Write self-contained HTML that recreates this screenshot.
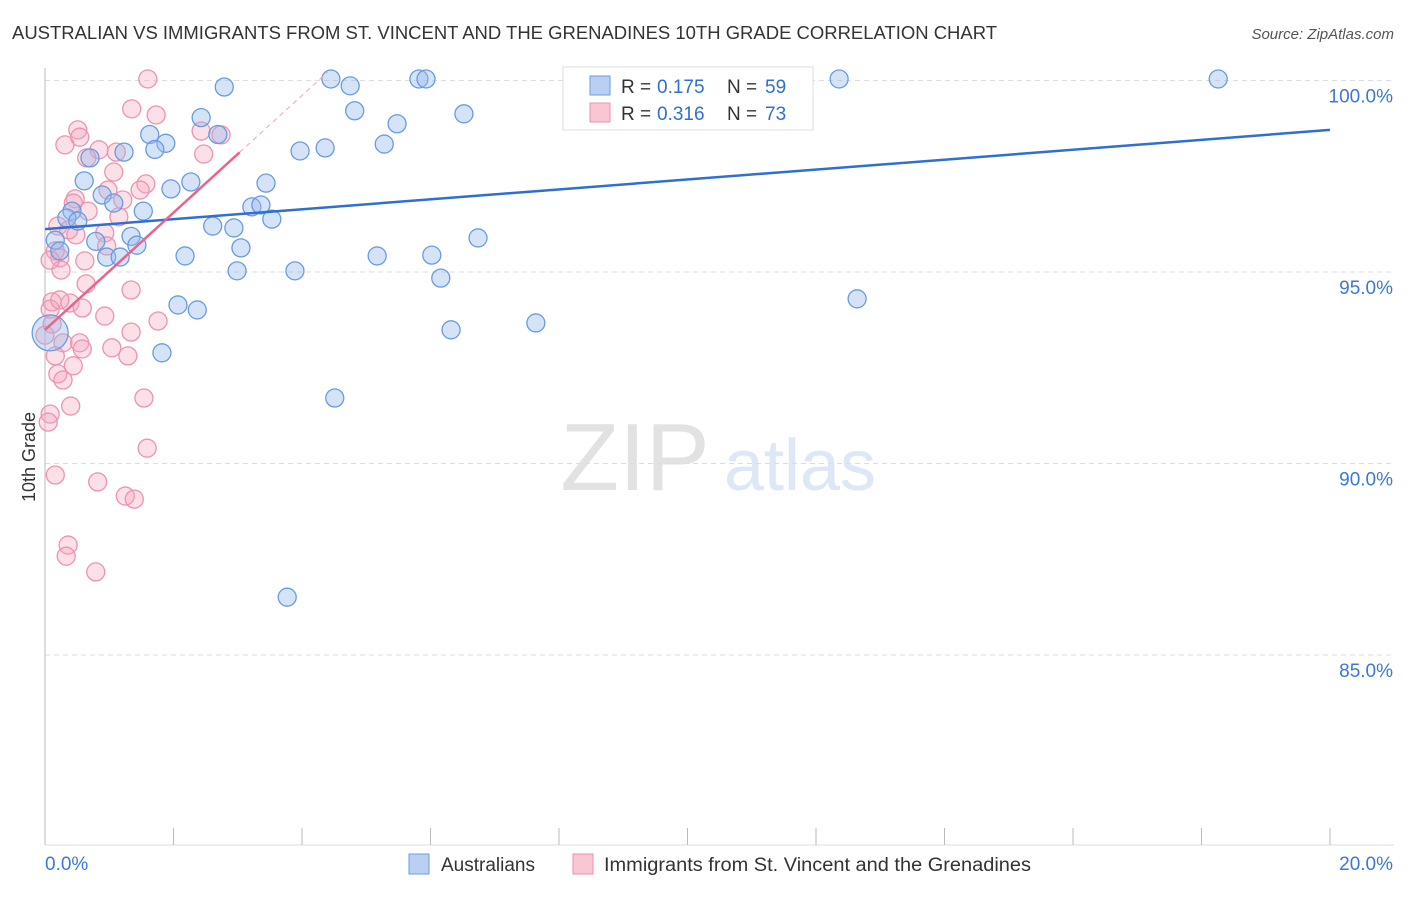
<!DOCTYPE html>
<html><head><meta charset="utf-8"><style>
body{margin:0;background:#fff;font-family:"Liberation Sans",sans-serif;}
svg text{font-family:"Liberation Sans",sans-serif;}
</style></head><body>
<svg id="c" width="1406" height="892" xmlns="http://www.w3.org/2000/svg">
<text x="12" y="39" font-size="18" fill="#333" textLength="985" lengthAdjust="spacingAndGlyphs">AUSTRALIAN VS IMMIGRANTS FROM ST. VINCENT AND THE GRENADINES 10TH GRADE CORRELATION CHART</text>
<text x="1394" y="39" font-size="15" fill="#555" text-anchor="end" font-style="italic">Source: ZipAtlas.com</text>
<text x="35" y="457" font-size="18" fill="#333" transform="rotate(-90 35 457)" text-anchor="middle">10th Grade</text>
<g><text x="635" y="490" font-size="96" fill="#e2e2e2" font-family="Liberation Serif" text-anchor="middle">ZIP</text><text x="800" y="490" font-size="72" fill="#dde7f5" text-anchor="middle">atlas</text></g>
<g id="grid"></g><g id="marks"></g><g id="lines"></g>
<g>
<rect x="563" y="67" width="250" height="63" fill="#fff" stroke="#ddd"/>
<rect x="590" y="76" width="20" height="19" fill="#b9d0f2" stroke="#6a9be0"/>
<rect x="590" y="103" width="20" height="19" fill="#f9c6d4" stroke="#ee90aa"/>
<text x="621" y="93" font-size="19" fill="#333">R =</text><text x="657" y="93" font-size="19" fill="#2f6fd0">0.175</text>
<text x="727" y="93" font-size="19" fill="#333">N =</text><text x="765" y="93" font-size="19" fill="#2f6fd0">59</text>
<text x="621" y="120" font-size="19" fill="#333">R =</text><text x="657" y="120" font-size="19" fill="#2f6fd0">0.316</text>
<text x="727" y="120" font-size="19" fill="#333">N =</text><text x="765" y="120" font-size="19" fill="#2f6fd0">73</text>
</g>
<g>
<rect x="409" y="854" width="20" height="20" fill="#b9d0f2" stroke="#6a9be0"/>
<text x="441" y="871" font-size="19" fill="#333">Australians</text>
<rect x="573" y="854" width="20" height="20" fill="#f9c6d4" stroke="#ee90aa"/>
<text x="604" y="871" font-size="19" fill="#333" textLength="427" lengthAdjust="spacingAndGlyphs">Immigrants from St. Vincent and the Grenadines</text>
</g>
</svg>
<script>
const xTickLabels=["0.0%","20.0%"];
const yTicks=[100,95,90,85];
const yTickLabels=["100.0%","95.0%","90.0%","85.0%"];
const blueX=[2.79,4.45,4.75,5.82,5.93,12.36,18.26,2.43,4.82,6.52,5.48,1.63,2.69,1.88,1.71,1.23,0.70,3.97,4.36,5.28,0.61,1.96,2.27,3.44,0.89,1.07,1.53,0.42,0.34,0.51,3.22,3.36,2.61,2.94,3.53,0.16,0.79,1.34,1.43,0.23,0.96,1.17,2.18,3.05,5.17,6.02,6.74,2.99,3.89,6.16,12.64,2.07,2.37,6.32,7.64,1.82,4.51,3.77,0.08];
const blueY=[99.83,100.04,99.86,100.04,100.04,100.04,100.04,99.03,99.21,99.13,98.87,98.59,98.59,98.36,98.20,98.13,97.98,98.16,98.24,98.34,97.38,97.17,97.35,97.32,97.01,96.80,96.59,96.59,96.41,96.33,96.70,96.75,96.20,96.15,96.38,95.83,95.80,95.93,95.70,95.55,95.39,95.39,95.42,95.63,95.42,95.44,95.89,95.03,95.03,94.84,94.30,94.14,94.01,93.49,93.67,92.89,91.71,86.51,93.41];
const pinkX=[1.60,1.35,1.73,0.51,0.54,0.31,0.84,0.65,1.11,2.47,2.43,2.74,1.07,1.57,1.48,0.98,0.47,0.44,0.67,1.21,1.15,0.20,0.37,0.93,0.48,0.96,0.16,0.23,0.62,0.25,0.64,1.34,0.11,0.39,0.08,0.58,0.93,1.76,1.34,0.11,0.28,0.54,0.58,1.04,1.29,0.16,0.44,0.20,0.28,1.54,0.40,0.08,0.05,0.16,0.82,1.25,1.39,0.36,0.33,0.79,1.59,0.00,0.08,0.23];
const pinkY=[100.04,99.26,99.10,98.71,98.52,98.32,98.19,97.98,98.13,98.08,98.68,98.58,97.61,97.30,97.14,97.14,96.91,96.80,96.59,96.88,96.44,96.20,96.10,96.02,95.97,95.68,95.55,95.37,95.29,95.05,94.69,94.53,94.22,94.19,94.03,94.06,93.85,93.72,93.43,93.64,93.15,93.15,92.99,93.02,92.81,92.81,92.55,92.34,92.18,91.71,91.50,91.29,91.08,89.70,89.52,89.15,89.07,87.87,87.58,87.17,90.40,93.35,95.31,94.27];
const blueFit=[96.12,98.71];
const pinkFit=[93.49,1.53];
const NS="http://www.w3.org/2000/svg";
const sx=v=>45+v*64.25, sy=v=>80.5+(100-v)*38.3;
function mk(t,a,p){const e=document.createElementNS(NS,t);for(const k in a)e.setAttribute(k,a[k]);p.appendChild(e);return e;}
const g=document.getElementById('grid');
yTicks.forEach((t,i)=>{
 const l=mk('line',{x1:45,x2:1394,y1:sy(t),y2:sy(t),stroke:'#ddd','stroke-dasharray':'5,4'},g);
 
 
 const tx=mk('text',{x:1393,y:sy(t)+22,'font-size':19,fill:'#3b78d8','text-anchor':'end'},g);tx.textContent=yTickLabels[i];
 
 
});
mk('line',{x1:45,x2:45,y1:68,y2:845,stroke:'#bbb'},g);
mk('line',{x1:45,x2:1394,y1:845,y2:845,stroke:'#ddd'},g);
for(let i=0;i<=10;i++){const l=mk('line',{x1:sx(i*2),x2:sx(i*2),y1:828,y2:845,stroke:'#bbb'},g);
 
 }
[0,20].forEach((v,i)=>{const tx=mk('text',{x:i?1393:45,y:870,'font-size':19,fill:'#3b78d8','text-anchor':i?'end':'start'},g);tx.textContent=xTickLabels[i];
 
 });
const m=document.getElementById('marks');
pinkX.forEach((x,i)=>{const c=mk('circle',{cx:sx(x),cy:sy(pinkY[i]),r:9,fill:'rgba(244,165,188,0.35)',stroke:'#ee93ad','stroke-width':1.3},m);
 
 });
blueX.forEach((x,i)=>{const c=mk('circle',{cx:sx(x),cy:sy(blueY[i]),r:i==blueX.length-1?18:9,fill:'rgba(150,185,235,0.4)',stroke:'#6a9be0','stroke-width':1.3},m);
 
 });
const L=document.getElementById('lines');
const bl=mk('line',{x1:sx(0),y1:sy(blueFit[0]),x2:sx(20),y2:sy(blueFit[1]),stroke:'#2f6fd0','stroke-width':2.5},L);


const pl=mk('line',{x1:sx(0),y1:sy(pinkFit[0]),x2:sx(3.03),y2:sy(pinkFit[0]+pinkFit[1]*3.03),stroke:'#e8648c','stroke-width':2.5},L);


const pd=mk('line',{x1:sx(3.03),y1:sy(pinkFit[0]+pinkFit[1]*3.03),x2:sx(4.4),y2:sy(pinkFit[0]+pinkFit[1]*4.4),stroke:'#f0a5bb','stroke-width':1,'stroke-dasharray':'5,4'},L);


</script>
</body></html>
